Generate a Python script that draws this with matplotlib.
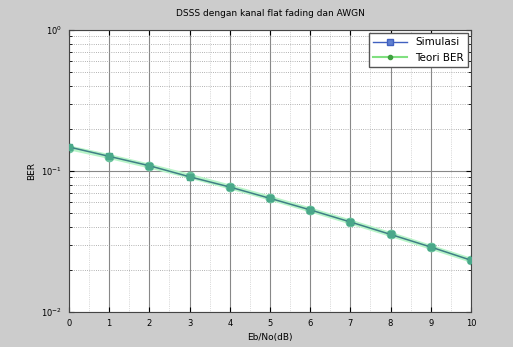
import matplotlib
matplotlib.use("Agg")
import matplotlib.pyplot as plt
from matplotlib.ticker import LogLocator, NullFormatter, MultipleLocator

ebno = [0, 1, 2, 3, 4, 5, 6, 7, 8, 9, 10]
ber_sim = [0.148, 0.127, 0.109, 0.091, 0.077, 0.064, 0.053, 0.0435, 0.0355, 0.0289, 0.0233]
ber_teori = [0.146, 0.1267, 0.1085, 0.0919, 0.0771, 0.0642, 0.0530, 0.0435, 0.0355, 0.0288, 0.0233]

fig = plt.figure(figsize=(5.13, 3.47), dpi=100, facecolor='#cccccc')
ax = fig.add_axes([0.1345, 0.1009, 0.7835, 0.8126])
ax.set_facecolor('white')

ax.semilogy(ebno, ber_teori, '-', color='#b8f5c8', lw=3.5, marker='o', ms=6,
            mfc='#6cc49e', mec='#6cc49e', label='Teori BER', zorder=2)
ax.semilogy(ebno, ber_sim, '-', color='#3f7f86', lw=1.1, marker='s', ms=4.5,
            mfc='#4aa88a', mec='#4aa88a', label='Simulasi', zorder=3)

ax.set_xlim(0, 10)
ax.set_ylim(1e-2, 1e0)
ax.set_xticks(ebno)
ax.xaxis.set_minor_locator(MultipleLocator(0.5))
ax.yaxis.set_major_locator(LogLocator(base=10, numticks=10))
ax.yaxis.set_minor_locator(LogLocator(base=10, subs=range(2, 10), numticks=10))
ax.yaxis.set_minor_formatter(NullFormatter())
ax.grid(True, which='major', color='#888888', lw=0.8, ls='-')
ax.grid(True, which='minor', axis='y', color='#999999', lw=0.6, ls=':')
ax.grid(True, which='minor', axis='x', color='#bbbbbb', lw=0.5, ls=':')
ax.tick_params(axis='both', which='both', direction='in', labelsize=6, top=True, right=True, pad=5)
ax.tick_params(axis='x', which='minor', length=0)
for s in ax.spines.values():
    s.set_color('#444444')

ax.set_title('DSSS dengan kanal flat fading dan AWGN', fontsize=6.5, pad=10)
ax.set_xlabel('Eb/No(dB)', fontsize=6.5)
ax.set_ylabel('BER', fontsize=6.5)

from matplotlib.lines import Line2D
h_sim = Line2D([], [], color='#4060c0', lw=1, marker='s', ms=4, mfc='#6080d0', mec='#4060c0')
h_teo = Line2D([], [], color='#80e080', lw=1.5, marker='o', ms=3, mfc='#40a040', mec='#40a040')
leg = ax.legend([h_sim, h_teo], ['Simulasi', 'Teori BER'], loc='upper right', fontsize=7.5,
                fancybox=False, edgecolor='#555555', framealpha=1, borderaxespad=0.3,
                handlelength=3.2)
fig.savefig('out.png', dpi=100, facecolor=fig.get_facecolor())
